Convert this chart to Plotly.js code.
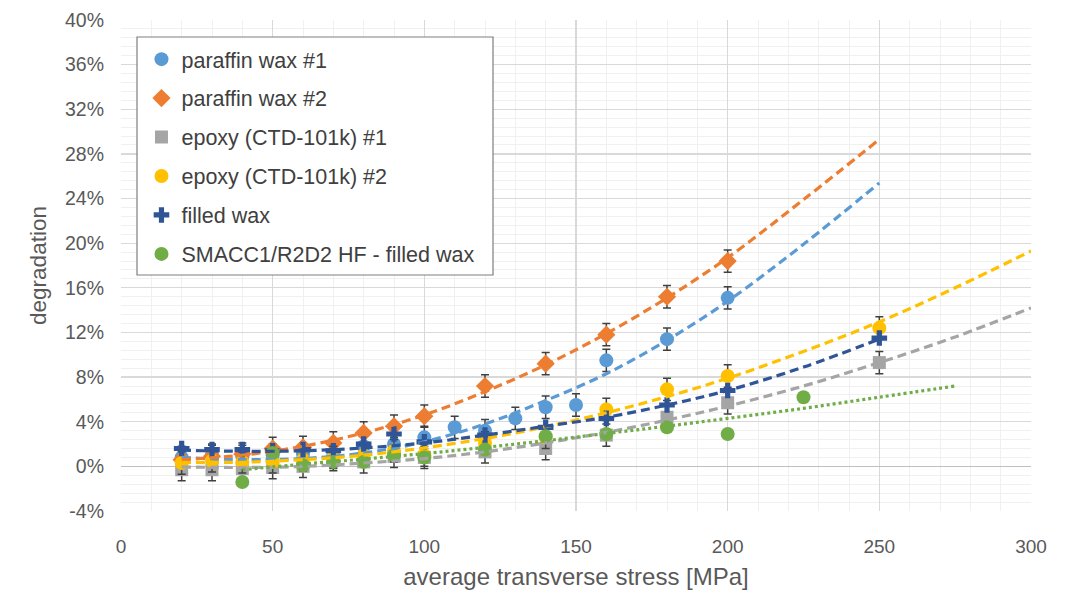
<!DOCTYPE html>
<html>
<head>
<meta charset="utf-8">
<script src="https://cdn.plot.ly/plotly-3.0.1.min.js"></script>
<style>html,body{margin:0;padding:0;background:#fff;}#chart{width:1078px;height:597px;}</style>
</head>
<body>
<div id="chart"></div>
<script>
// ---- data (degradation in %) ----
const seriesNames = ["paraffin wax #1", "paraffin wax #2", "epoxy (CTD-101k) #1", "epoxy (CTD-101k) #2", "filled wax", "SMACC1/R2D2 HF - filled wax"];

const xWax1 = [20, 30, 40, 50, 60, 70, 80, 90, 100, 110, 120, 130, 140, 150, 160, 180, 200];
const yWax1 = [0.8, 1.0, 0.9, 1.0, 1.1, 0.9, 1.8, 2.0, 2.6, 3.5, 3.2, 4.3, 5.3, 5.5, 9.5, 11.4, 15.1];

const xWax2 = [20, 30, 40, 50, 60, 70, 80, 90, 100, 120, 140, 160, 180, 200];
const yWax2 = [0.6, 0.9, 1.1, 1.6, 1.7, 2.1, 3.0, 3.6, 4.5, 7.2, 9.2, 11.8, 15.2, 18.4];

const xEpoxy1 = [20, 30, 40, 50, 60, 70, 80, 90, 100, 120, 140, 160, 180, 200, 250];
const yEpoxy1 = [-0.3, -0.3, -0.2, -0.1, 0.0, 0.6, 0.4, 0.9, 0.8, 1.3, 1.6, 2.8, 4.4, 5.7, 9.3];

const xEpoxy2 = [20, 30, 40, 50, 60, 70, 80, 90, 100, 120, 140, 160, 180, 200, 250];
const yEpoxy2 = [0.3, 0.5, 0.4, 0.4, 0.6, 0.8, 1.0, 1.4, 1.0, 2.1, 2.6, 5.1, 6.9, 8.1, 12.4];

const xFilled = [20, 30, 40, 50, 60, 70, 80, 90, 100, 120, 140, 160, 180, 200, 250];
const yFilled = [1.6, 1.5, 1.5, 1.4, 1.5, 1.4, 2.0, 2.9, 2.2, 2.8, 3.5, 4.3, 5.5, 6.8, 11.5];

const xSmacc = [40, 50, 60, 70, 80, 90, 100, 120, 140, 160, 180, 200, 225];
const ySmacc = [-1.4, 1.2, 0.1, 0.4, 0.4, 1.0, 0.8, 1.5, 2.7, 2.9, 3.5, 2.9, 6.2];

const errPct = 1.0;

// trendlines
const xTrWax1 = [20, 40, 60, 80, 100, 120, 140, 160, 180, 200, 225, 250];
const yTrWax1 = [0.8, 0.6, 0.7, 1.2, 2.2, 3.8, 5.9, 8.3, 11.3, 14.8, 19.9, 25.4];

const xTrWax2 = [20, 40, 60, 80, 100, 120, 140, 160, 180, 200, 225, 250];
const yTrWax2 = [0.6, 1.0, 1.8, 3.0, 4.6, 6.7, 9.1, 11.9, 15.1, 18.7, 23.9, 29.3];

const xTrEpoxy1 = [20, 40, 60, 80, 100, 120, 140, 160, 180, 200, 225, 250, 275, 300];
const yTrEpoxy1 = [-0.05, -0.1, 0.0, 0.3, 0.7, 1.3, 2.1, 3.05, 4.15, 5.4, 7.2, 9.3, 11.6, 14.2];

const xTrEpoxy2 = [20, 40, 60, 80, 100, 120, 140, 160, 180, 200, 225, 250, 275, 300];
const yTrEpoxy2 = [0.35, 0.37, 0.6, 1.0, 1.66, 2.5, 3.55, 4.8, 6.25, 7.9, 10.3, 12.95, 16.0, 19.3];

const xTrFilled = [20, 40, 60, 80, 100, 120, 140, 160, 180, 200, 225, 250];
const yTrFilled = [1.45, 1.35, 1.4, 1.65, 2.1, 2.8, 3.6, 4.4, 5.5, 6.8, 8.9, 11.4];

const xTrSmacc = [40, 60, 80, 100, 120, 140, 160, 180, 200, 225, 250, 275];
const yTrSmacc = [-0.3, 0.2, 0.65, 1.15, 1.7, 2.3, 2.95, 3.6, 4.3, 5.2, 6.2, 7.2];

const yTickVals = [-4, 0, 4, 8, 12, 16, 20, 24, 28, 32, 36, 40];
const yTickText = ["-4%", "0%", "4%", "8%", "12%", "16%", "20%", "24%", "28%", "32%", "36%", "40%"];
const xTickVals = [0, 50, 100, 150, 200, 250, 300];
const xTickText = ["0", "50", "100", "150", "200", "250", "300"];

// ---- styling ----
const colors = ["#5B9BD5", "#ED7D31", "#A5A5A5", "#FFC000", "#2F5597", "#70AD47"];
const symbols = ["circle", "diamond", "square", "circle", "cross", "circle"];
const sizes = [14, 14, 13, 14, 13, 14];
const hasErr = [true, true, true, true, false, false];
const pts = [[xWax1, yWax1], [xWax2, yWax2], [xEpoxy1, yEpoxy1], [xEpoxy2, yEpoxy2], [xFilled, yFilled], [xSmacc, ySmacc]];
const trs = [[xTrWax1, yTrWax1], [xTrWax2, yTrWax2], [xTrEpoxy1, yTrEpoxy1], [xTrEpoxy2, yTrEpoxy2], [xTrFilled, yTrFilled], [xTrSmacc, yTrSmacc]];

const traces = [];
for (let i = 0; i < 6; i++) {
  const t = {
    type: "scatter", mode: "markers", name: seriesNames[i],
    x: pts[i][0], y: pts[i][1], legendgroup: "g" + i,
    marker: {color: colors[i], symbol: symbols[i], size: sizes[i], line: {width: 0}},
    hoverinfo: "x+y"
  };
  if (hasErr[i]) {
    t.error_y = {type: "constant", value: errPct, color: "#404040", thickness: 1.5, width: 4};
  }
  traces.push(t);
}
for (let i = 0; i < 6; i++) {
  traces.push({
    type: "scatter", mode: "lines", x: trs[i][0], y: trs[i][1],
    legendgroup: "g" + i, showlegend: false, hoverinfo: "skip",
    line: {color: colors[i], width: 3.2, shape: "spline", smoothing: 1, dash: i === 5 ? "3px,3px" : "9px,5px"}
  });
}

const gridMajor = "#D9D9D9";
const gridMinor = "#F0F0F0";
const fontFam = "Liberation Sans, Arial, sans-serif";

const layout = {
  width: 1078, height: 597,
  margin: {l: 121, r: 47, t: 20, b: 86},
  paper_bgcolor: "#ffffff", plot_bgcolor: "#ffffff",
  font: {family: fontFam, color: "#595959", size: 18},
  showlegend: true,
  legend: {
    x: 0.0225, y: 0.962, xanchor: "left", yanchor: "top",
    bgcolor: "rgba(0,0,0,0)", borderwidth: 0,
    font: {family: fontFam, size: 21.5, color: "#404040"},
    tracegroupgap: 8, itemsizing: "trace"
  },
  shapes: [{
    type: "rect", xref: "paper", yref: "paper",
    x0: 0.0176, x1: 0.4088, y0: 0.4807, y1: 0.9654,
    fillcolor: "#ffffff", line: {color: "#7F7F7F", width: 1.2}, layer: "above"
  }],
  xaxis: {
    range: [0, 300], tickvals: xTickVals, ticktext: xTickText,
    showgrid: true, gridcolor: gridMajor, gridwidth: 1.3,
    minor: {dtick: 10, showgrid: true, gridcolor: gridMinor, gridwidth: 1},
    zeroline: false, showline: false, ticks: "",
    tickfont: {size: 19, color: "#595959"}, ticklabelstandoff: 22,
    title: {text: "average transverse stress [MPa]", font: {size: 24, color: "#595959"}, standoff: 12},
    fixedrange: true
  },
  yaxis: {
    range: [-4, 40], tickvals: yTickVals, ticktext: yTickText,
    showgrid: true, gridcolor: gridMajor, gridwidth: 1.3,
    minor: {dtick: 0.8, showgrid: true, gridcolor: gridMinor, gridwidth: 1},
    zeroline: true, zerolinecolor: "#BFBFBF", zerolinewidth: 1.5,
    showline: false, ticks: "",
    tickfont: {size: 19.5, color: "#595959"}, ticklabelstandoff: 16,
    title: {text: "degradation", font: {size: 22.5, color: "#595959"}, standoff: 12},
    fixedrange: true
  }
};

Plotly.newPlot("chart", traces, layout, {displayModeBar: false, staticPlot: true});
</script>
</body>
</html>
